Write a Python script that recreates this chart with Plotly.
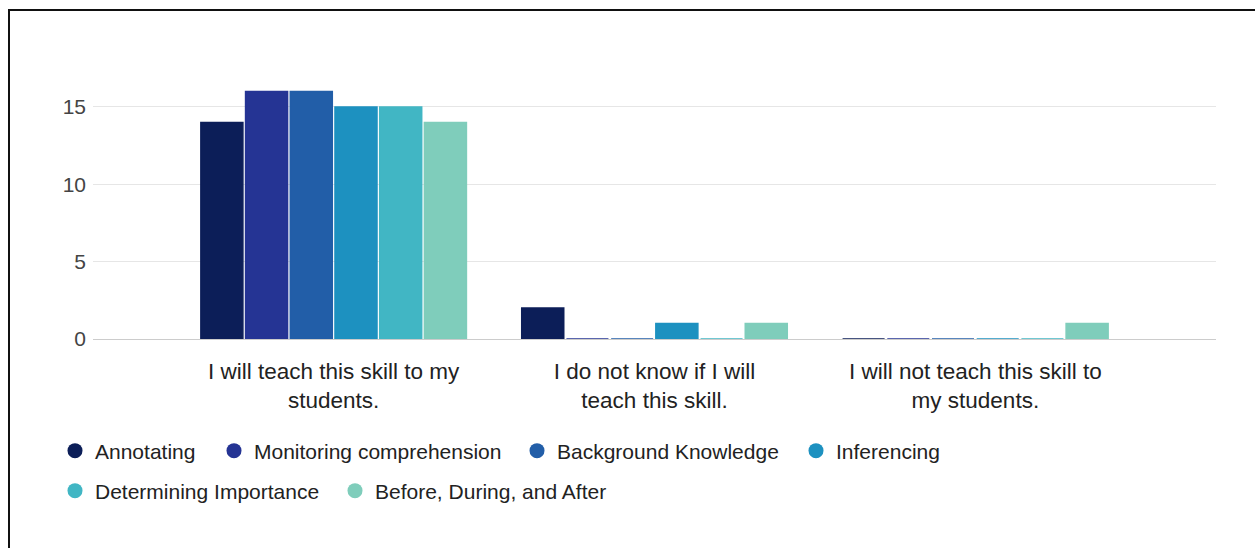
import plotly.graph_objects as go

# Survey responses per reading-comprehension strategy
categories = [
    "I will teach this skill to my<br>students.",
    "I do not know if I will<br>teach this skill.",
    "I will not teach this skill to<br>my students.",
]
skills = [
    "Annotating",
    "Monitoring comprehension",
    "Background Knowledge",
    "Inferencing",
    "Determining Importance",
    "Before, During, and After",
]
counts = {
    "Annotating": [14, 2, 0],
    "Monitoring comprehension": [16, 0, 0],
    "Background Knowledge": [16, 0, 0],
    "Inferencing": [15, 1, 0],
    "Determining Importance": [15, 0, 0],
    "Before, During, and After": [14, 1, 1],
}
colors = ["#0c1e58", "#253494", "#225ea8", "#1d91c0", "#41b6c4", "#7fcdbb"]
y_ticks = [0, 5, 10, 15]

FONT = "Liberation Sans, Arial, sans-serif"

# plot area in pixels: left 93, right 1216, top 76, bottom 339
PL, PW, PB, PH = 93, 1123, 339, 263
# legend entries: (left edge px, row centre px), each entry is its own legend box
legend_slots = [(55, 451), (214, 451), (517, 451), (796, 451), (55, 491), (335, 491)]

fig = go.Figure()

for name, col in zip(skills, colors):
    # bars: a thin outline in the same colour keeps zero-count bars visible as a line
    fig.add_trace(go.Bar(
        x=list(range(len(categories))),
        y=counts[name],
        name=name,
        marker=dict(color=col, line=dict(color=col, width=1.5)),
        showlegend=False,
    ))

legends = {}
for i, (name, col) in enumerate(zip(skills, colors)):
    key = "legend" if i == 0 else f"legend{i + 1}"
    # round legend keys
    fig.add_trace(go.Scatter(
        x=[None], y=[None], mode="markers", name=name,
        marker=dict(color=col, size=15, symbol="circle"),
        legend=key,
    ))
    lx, ly = legend_slots[i]
    legends[key] = dict(
        orientation="h", x=(lx - PL) / PW, xanchor="left",
        y=(PB - ly) / PH, yanchor="middle",
        font=dict(family=FONT, size=21, color="#222222"),
        bgcolor="rgba(0,0,0,0)", itemclick=False, itemdoubleclick=False,
    )

fig.update_layout(
    width=1255, height=548,
    margin=dict(l=PL, r=1255 - PL - PW, t=PB - PH, b=548 - PB),
    paper_bgcolor="white", plot_bgcolor="white",
    font=dict(family=FONT, size=20, color="#222222"),
    barmode="group", bargap=0.164, bargroupgap=0.06,
    xaxis=dict(
        range=[-0.75, 2.75],
        tickmode="array", tickvals=list(range(len(categories))), ticktext=categories,
        showgrid=False, zeroline=False, showline=False,
        ticks="", ticklabelstandoff=16,
        tickfont=dict(family=FONT, size=22.5, color="#222222"),
        fixedrange=True,
    ),
    yaxis=dict(
        range=[0, 17],
        tickmode="array", tickvals=y_ticks,
        showgrid=True, gridcolor="#e6e6e6", gridwidth=1,
        zeroline=True, zerolinecolor="#cccccc", zerolinewidth=1,
        showline=False, ticks="", ticklabelstandoff=6,
        tickfont=dict(family=FONT, size=21, color="#444444"),
        fixedrange=True,
    ),
    shapes=[dict(
        type="rect", xref="paper", yref="paper",
        x0=(9 - PL) / PW, x1=1.05, y0=-0.85, y1=(PB - 10) / PH,
        line=dict(color="#111111", width=2), fillcolor="rgba(0,0,0,0)",
        layer="above",
    )],
    **legends,
)

fig.write_html("out.html", config={"displayModeBar": False})
